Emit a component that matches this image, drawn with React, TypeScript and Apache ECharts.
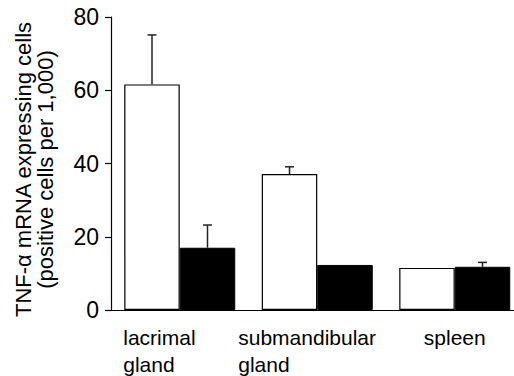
import React, { useEffect, useRef } from "react";
import * as echarts from "echarts";

// ---- data ----
const categories = ["lacrimal\ngland", "submandibular\ngland", "spleen"];
const whiteValues = [61.6, 37.1, 11.5];
const blackValues = [17.0, 12.3, 11.8];
const whiteErrors = [13.5, 2.0, 0];
const blackErrors = [6.2, 0, 1.2];
const yMin = 0;
const yMax = 80;
const yInterval = 20;
const yAxisName = "TNF-α mRNA expressing cells\n(positive cells per 1,000)";

// ---- style ----
const FONT = '"Liberation Sans", Arial, Helvetica, sans-serif';
const BAR_W = 55.5;
const labelKeys = ["a", "b", "c"];

function errorSeries(values: number[], errors: number[], side: number) {
  return {
    type: "custom",
    coordinateSystem: "cartesian2d",
    encode: { x: 0, y: [1, 2] },
    data: values.map((v, i) => [i, v, v + errors[i]]),
    z: 3,
    silent: true,
    renderItem: (params: any, api: any) => {
      const i = api.value(0);
      const lo = api.value(1);
      const hi = api.value(2);
      if (!(hi > lo)) return { type: "group", children: [] };
      const p0 = api.coord([i, lo]);
      const p1 = api.coord([i, hi]);
      const x = p0[0] + (side * BAR_W) / 2;
      const st = { stroke: "#222", lineWidth: 1.5 };
      return {
        type: "group",
        children: [
          { type: "line", shape: { x1: x, y1: p0[1], x2: x, y2: p1[1] }, style: st },
          { type: "line", shape: { x1: x - 4.5, y1: p1[1], x2: x + 4.5, y2: p1[1] }, style: st },
        ],
      };
    },
  };
}

export default function App() {
  const ref = useRef<HTMLDivElement>(null);
  useEffect(() => {
    document.body.style.margin = "0";
    document.body.style.background = "#fff";
    const chart = echarts.init(ref.current!, null, { renderer: "svg" });
    const labelStyle = { fontFamily: FONT, fontSize: 21, lineHeight: 27, color: "#000" };
    chart.setOption({
      animation: false,
      backgroundColor: "#fff",
      grid: {
        left: 111,
        top: 17,
        bottom: 66,
        width: 412.5,
        containLabel: false,
        outerBoundsMode: "none",
      },
      xAxis: {
        type: "category",
        data: categories,
        axisLine: { show: true, lineStyle: { color: "#000", width: 1.2 } },
        axisTick: { show: false },
        splitLine: { show: false },
        axisLabel: {
          interval: 0,
          margin: 14,
          align: "center",
          formatter: (val: string, idx: number) =>
            val
              .split("\n")
              .map((l) => `{${labelKeys[idx]}|${l}}`)
              .join("\n"),
          rich: {
            a: { ...labelStyle, width: 113, align: "left" },
            b: { ...labelStyle, width: 158, align: "left" },
            c: { ...labelStyle, align: "center" },
          },
        },
      },
      yAxis: {
        type: "value",
        min: yMin,
        max: yMax,
        interval: yInterval,
        name: yAxisName,
        nameLocation: "middle",
        nameRotate: 90,
        nameGap: 55,
        nameTextStyle: {
          fontFamily: FONT,
          fontSize: 22,
          lineHeight: 22,
          color: "#000",
          padding: [0, 12, 0, 0],
        },
        axisLine: { show: true, lineStyle: { color: "#000", width: 1.2 } },
        axisTick: { show: true, inside: false, length: 6, lineStyle: { color: "#000", width: 1.2 } },
        splitLine: { show: false },
        axisLabel: { fontFamily: FONT, fontSize: 23, color: "#000", margin: 12 },
      },
      series: [
        {
          type: "bar",
          data: whiteValues,
          barWidth: BAR_W,
          barGap: "0%",
          itemStyle: { color: "#fff", borderColor: "#000", borderWidth: 1.2 },
          silent: true,
        },
        {
          type: "bar",
          data: blackValues,
          barWidth: BAR_W,
          barGap: "0%",
          itemStyle: { color: "#000", borderColor: "#000", borderWidth: 1 },
          silent: true,
        },
        errorSeries(whiteValues, whiteErrors, -1),
        errorSeries(blackValues, blackErrors, 1),
      ],
    });
    return () => chart.dispose();
  }, []);
  return (
    <div
      ref={ref}
      style={{ position: "fixed", left: 0, top: 0, width: 514, height: 376 }}
    />
  );
}
